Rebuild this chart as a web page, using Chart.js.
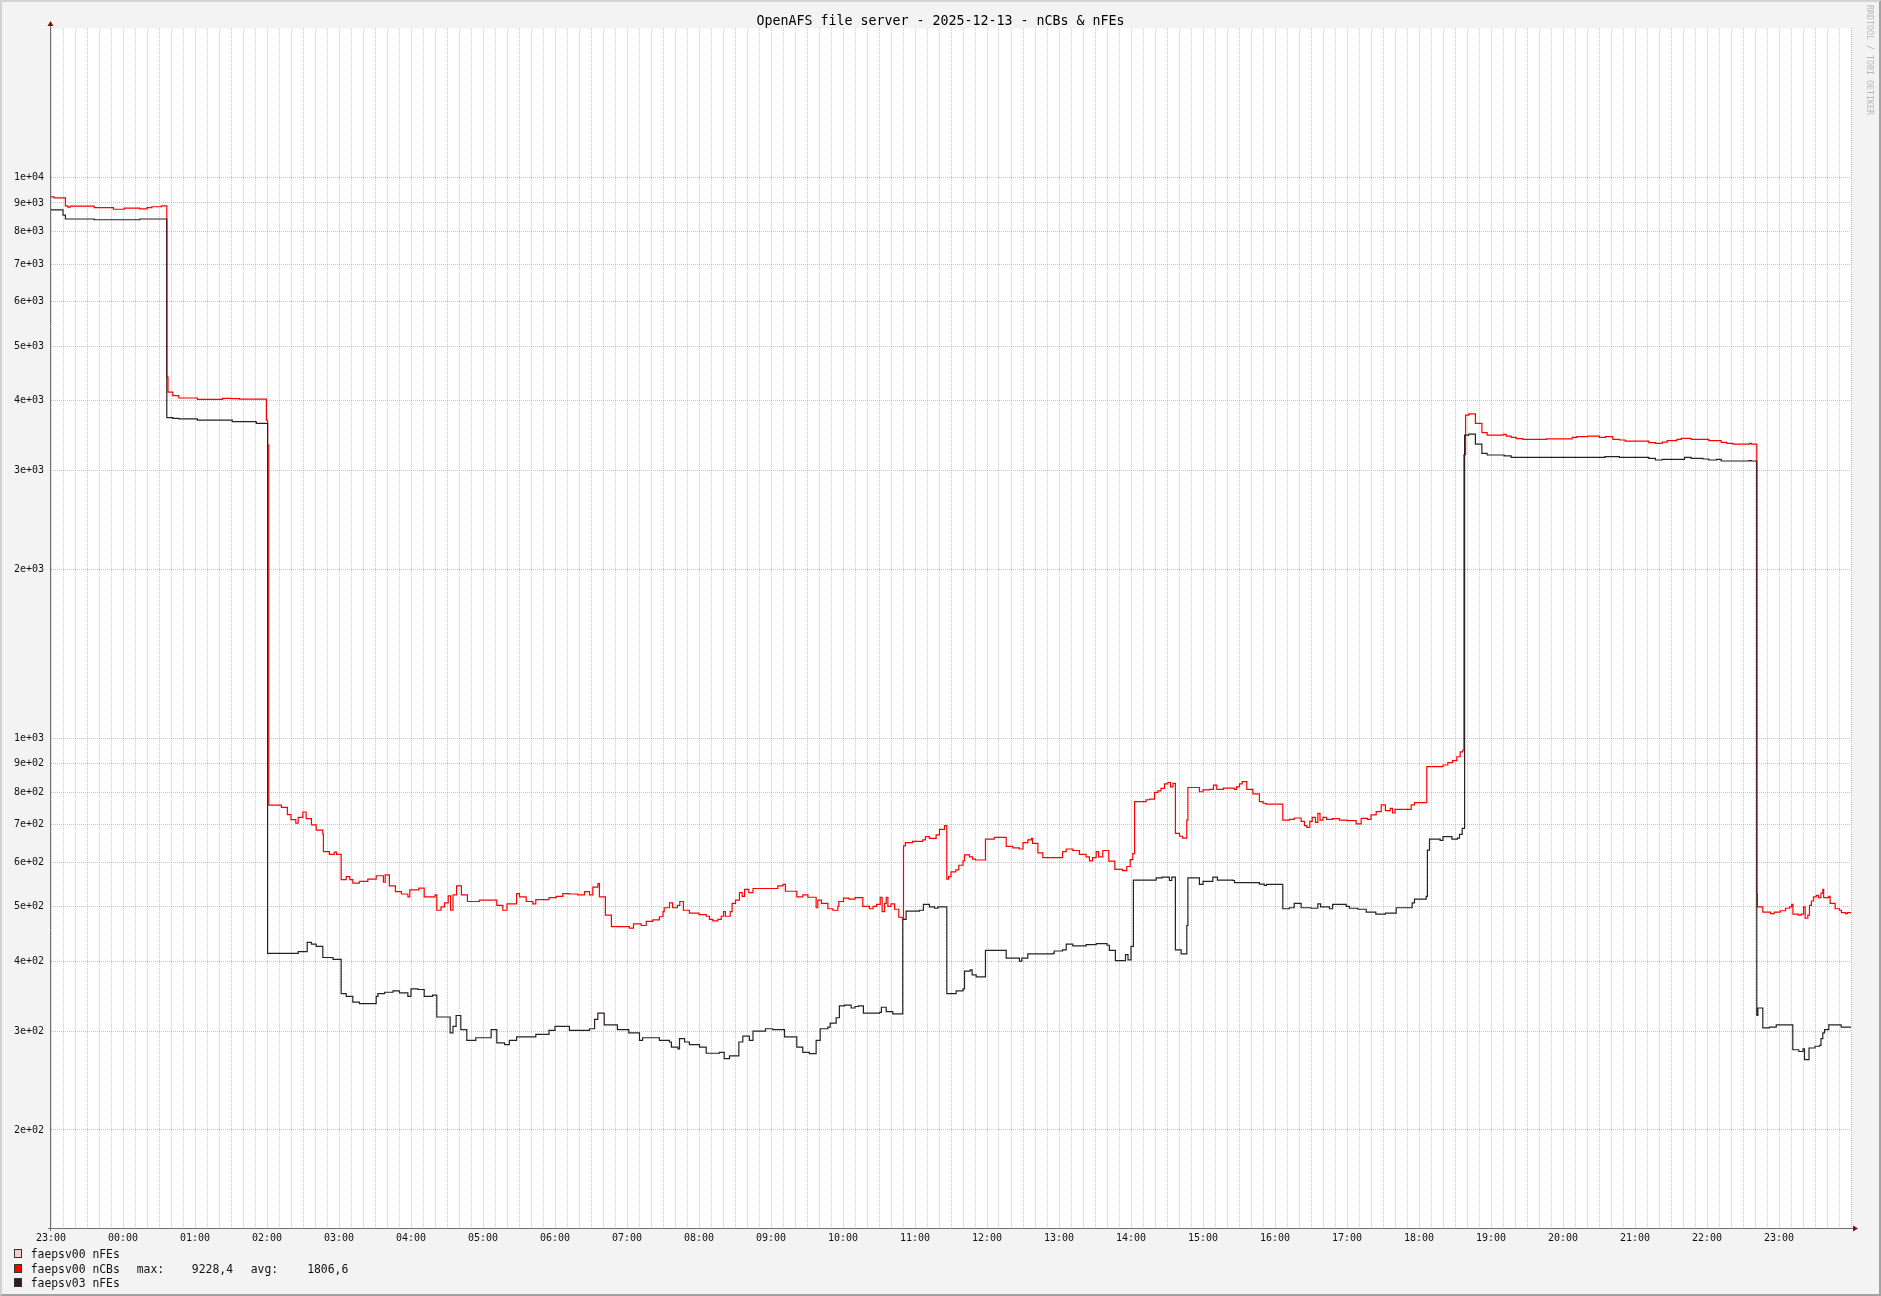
<!DOCTYPE html>
<html>
<head>
<meta charset="utf-8">
<title>OpenAFS file server - nCBs &amp; nFEs</title>
<script src="https://cdn.jsdelivr.net/npm/chart.js@4.4.1/dist/chart.umd.min.js"></script>
<style>
  body { margin: 0; background: #f3f3f3; }
  #frame {
    position: relative;
    width: 1881px;
    height: 1296px;
    background: #f3f3f3;
    font-family: "DejaVu Sans Mono", monospace;
    overflow: hidden;
  }
  #chart { position: absolute; left: 0; top: 0; }
  #border {
    position: absolute; left: 0; top: 0; width: 1881px; height: 1296px;
    box-sizing: border-box; pointer-events: none;
    border-style: solid; border-width: 2px;
    border-color: #d2d2d2 #a2a2a2 #a2a2a2 #d2d2d2;
  }
  #title {
    position: absolute; left: 0; top: 13px; width: 1881px;
    text-align: center; font-size: 13.3px; line-height: 16px; color: #000;
  }
  #watermark {
    position: absolute; left: 1865px; top: 5px;
    writing-mode: vertical-rl; font-size: 8.3px; line-height: 10px;
    color: #b8b8b8; white-space: pre;
  }
  #legend { position: absolute; left: 0; top: 1247px; }
  .row { position: relative; height: 14.5px; width: 400px; }
  .box {
    position: absolute; left: 14px; top: 2px; width: 6px; height: 7px;
    border: 1px solid #333;
  }
  .txt {
    position: absolute; top: 0; font-size: 11.4px; line-height: 14px;
    white-space: pre; color: #111;
  }
  .num { text-align: right; width: 42px; }
</style>
</head>
<body>
<div id="frame">
  <canvas id="chart" width="1881" height="1296"></canvas>
  <div id="title">OpenAFS file server - 2025-12-13 - nCBs &amp; nFEs</div>
  <div id="watermark">RRDTOOL / TOBI OETIKER</div>
  <div id="legend"></div>
  <div id="border"></div>
</div>
<script>
// x values are minutes since 23:00 of the previous day (25 hours shown)
const hourLabels = ["23:00", "00:00", "01:00", "02:00", "03:00", "04:00", "05:00", "06:00", "07:00",
  "08:00", "09:00", "10:00", "11:00", "12:00", "13:00", "14:00", "15:00", "16:00", "17:00",
  "18:00", "19:00", "20:00", "21:00", "22:00", "23:00"];
const yTickValues = [200, 300, 400, 500, 600, 700, 800, 900, 1000,
  2000, 3000, 4000, 5000, 6000, 7000, 8000, 9000, 10000];

const seriesLabels = ["faepsv00 nFEs", "faepsv00 nCBs", "faepsv03 nFEs"];
const seriesColors = ["#ffcccc", "#ff0000", "#2b2020"];
const statNames = ["max:", "avg:"];
const ncbsStats = ["9228,4", "1806,6"];

// faepsv00 nFEs: nothing drawn in the picture
const nfes00Times = [];
const nfes00Values = [];

// faepsv00 nCBs
const ncbsTimes = [0, 2.5, 12, 14, 16, 36, 52, 61, 74, 80, 84, 92, 96.5, 97.5, 101.5, 106.5, 122, 143, 150, 157,
  179.5, 180.5, 181.5, 192, 197, 200, 204, 206, 209.9, 212.6, 217, 221, 226.5, 227, 232, 236, 238,
  241.8, 246, 249, 251.5, 257, 264, 271, 277, 278.5, 282, 287, 292, 297.4, 299, 306.5, 311, 320,
  321.5, 325, 328, 331, 333, 335, 338, 342, 347, 357, 371.5, 376.5, 380, 388, 390.4, 396, 401.5,
  404, 415, 421, 426.5, 432, 439, 444.6, 448.75, 451.5, 455.7, 457, 462, 467, 482, 485.4, 491.8,
  496, 501.5, 507, 510, 511, 515.4, 518, 522, 524, 527, 532, 540, 546, 548.7, 551.5, 555.7, 558.5,
  560.4, 562, 566, 567.6, 570.4, 573.7, 576, 578, 581.5, 585, 605.7, 610, 612, 621.5, 626.5, 630.7,
  637.6, 639, 642, 647.4, 651.5, 655.7, 656.5, 660.4, 665, 670, 676.5, 682, 685, 688, 691, 692.6,
  694.6, 696, 697.4, 700, 703, 706.5, 709.3, 710.4, 712, 718, 726.5, 728.7, 732, 737.6, 740.4,
  744.6, 746.5, 748, 750, 754, 756.5, 760, 761.25, 765.4, 768, 770.4, 778.7, 786, 796, 801.5, 807,
  810, 814, 817, 818, 822.4, 826.5, 843, 846, 851.5, 857, 862.6, 865.4, 868, 871, 873, 876.5, 881.5,
  886.5, 893, 896.5, 899.3, 901.5, 903, 912.6, 915.4, 919.6, 922.4, 925, 928, 930.7, 933, 935, 937,
  940.4, 943, 946.5, 947.4, 957, 960, 965.4, 968.75, 971.5, 977, 986, 988, 990.4, 992.6, 996.5,
  1001.5, 1007, 1010, 1012.6, 1026.5, 1032, 1036, 1041.8, 1044.6, 1046.5, 1049, 1051, 1053.75,
  1055.7, 1057.5, 1060, 1063, 1068, 1073.75, 1080, 1087.6, 1091.8, 1097, 1100, 1104.3, 1108.5, 1112,
  1116, 1118, 1120, 1133.5, 1136.25, 1146.5, 1160, 1164, 1168, 1171.5, 1174.3, 1176.5, 1177.4,
  1178.8, 1181.5, 1187, 1192.4, 1196.8, 1210, 1212.7, 1216.8, 1221, 1226.5, 1246, 1267.7, 1271.5,
  1280.7, 1290.4, 1295.4, 1301.5, 1307.1, 1311.8, 1331.5, 1337.1, 1342.7, 1346.8, 1354.9, 1358.5,
  1366.8, 1381.5, 1391.8, 1396.5, 1401.5, 1415.4, 1417, 1421.5, 1422, 1426.5, 1433, 1436, 1441,
  1445.4, 1448.8, 1450.5, 1451.6, 1456, 1458.5, 1460.4, 1461.8, 1464, 1465.4, 1467, 1468.75, 1471,
  1473, 1475, 1476.5, 1477.2, 1481.5, 1482.6, 1486.8, 1490.4, 1492, 1495.4, 1497, 1500];
const ncbsValues = [9228, 9190, 8890, 8850, 8880, 8830, 8770, 8810, 8780, 8830, 8860, 8890, 4400, 4140, 4080, 4040, 4018, 4035, 4030, 4020,
  3690, 3330, 759, 752, 730, 715, 705, 722, 738, 718, 700, 685, 674, 627, 620, 626, 620,
  559, 566, 559, 551, 555, 560, 568, 553, 570, 545, 532, 527, 521, 536, 540, 521, 525,
  493, 500, 508, 523, 493, 525, 545, 525, 511, 514, 503, 493, 506, 528, 521, 511, 506,
  515, 519, 522, 528, 527, 525, 532, 525, 542, 550, 521, 483, 461, 458, 466, 463,
  471, 474, 480, 490, 498, 508, 498, 503, 511, 493, 487, 484, 481, 475, 472, 475, 481,
  490, 481, 490, 507, 514, 530, 522, 537, 530, 539, 545, 548, 533, 521, 525, 520,
  498, 514, 507, 496, 493, 501, 511, 518, 516, 519, 501, 496, 501, 505, 520, 490,
  507, 520, 501, 506, 495, 479, 477, 642, 651, 654, 658, 667, 662, 672, 687,
  698, 560, 566, 577, 582, 593, 604, 619, 614, 608, 606, 660, 665, 641, 637, 634,
  651, 658, 662, 649, 624, 612, 627, 634, 630, 620, 614, 604, 612, 627, 614, 630, 603,
  583, 580, 590, 607, 622, 770, 776, 778, 800, 805, 813, 828, 833, 818, 830, 676,
  668, 663, 714, 816, 802, 808, 810, 824, 810, 814, 810, 818, 828, 836, 810,
  795, 770, 765, 762, 714, 716, 720, 710, 698, 693, 710, 722, 707,
  734, 714, 722, 716, 718, 714, 712, 703, 719, 716, 729, 739, 760, 742,
  749, 735, 746, 760, 767, 889, 895, 904, 911, 926, 945, 952, 3200,
  3767, 3784, 3641, 3503, 3470, 3480, 3455, 3438, 3420, 3410, 3417, 3438, 3446,
  3455, 3438, 3446, 3410, 3400, 3384, 3363, 3353, 3370, 3391, 3410, 3424,
  3410, 3391, 3367, 3353, 3344, 3353, 3344, 526, 500, 489, 486, 489, 492,
  497, 500, 505, 485, 483, 485, 500, 477, 483, 503, 512, 521, 524,
  519, 529, 537, 519, 522, 507, 496, 493, 488, 486, 488, 488];

// faepsv03 nFEs
const nfes03Times = [0, 10, 12, 36, 74, 96.5, 101.5, 106.5, 122, 151, 171, 180.5, 206, 213.5, 217, 221, 226.5, 235,
  241.8, 246, 251.5, 257, 271, 272.4, 278, 285, 290.4, 297.4, 300, 305.7, 311, 318, 321.5, 332.6,
  335, 337.6, 341.5, 346.5, 354, 366.8, 371.5, 378, 382, 388, 404, 415, 420, 432, 448.75, 453,
  455.7, 461, 472, 481.5, 490.4, 493, 507, 515.4, 517, 522.4, 523.75, 528, 532, 540.4, 546, 557,
  561, 565.4, 573.2, 576.5, 582, 585, 595.4, 601.5, 611.25, 621.5, 626.5, 632, 637.6, 641, 647.4,
  649.3, 654.3, 657, 661.25, 666.8, 670, 673, 677, 690.4, 692, 696, 701.5, 709.8, 712.6, 723.7,
  727, 732, 736.25, 739, 746.5, 754.3, 760, 761.25, 766, 767.6, 771, 778.7, 796, 807, 809, 814,
  835, 836, 843, 846, 851.5, 862.6, 871, 880, 882, 887, 895.4, 897.5, 900, 902, 921, 926, 932,
  934, 937, 941.8, 946.5, 947.4, 957, 960, 968.2, 972, 985, 986.25, 1007, 1011, 1013, 1026.5,
  1032, 1036, 1041.8, 1050, 1055.7, 1058, 1065.4, 1068, 1079.3, 1082, 1089, 1096, 1104, 1112,
  1121, 1134.3, 1136.25, 1146, 1147, 1148.75, 1157.6, 1160, 1167.4, 1172, 1173.75, 1176, 1178,
  1181.5, 1187, 1192.4, 1196.8, 1211, 1216.8, 1295, 1307, 1331.5, 1337, 1342.7, 1361.3, 1366.8,
  1376.6, 1381.5, 1388, 1391.8, 1415, 1417, 1421.5, 1422.4, 1426.5, 1432, 1437.7, 1451.5, 1456.5,
  1460, 1461.25, 1465, 1470, 1473.8, 1475, 1476.5, 1478, 1481.5, 1491.8, 1500];
const nfes03Values = [8745, 8560, 8426, 8400, 8426, 3726, 3715, 3707, 3690, 3665, 3641, 413, 416, 432, 429, 425, 406, 403,
  350, 346, 338, 336, 346, 350, 352, 354, 351, 346, 357, 356, 346, 348, 318, 298,
  306, 320, 302, 289, 292, 302, 286, 284, 289, 293, 296, 301, 306, 301, 303, 315,
  323, 308, 302, 298, 289, 292, 289, 287, 281, 279, 291, 287, 284, 281, 274, 275,
  268, 271, 287, 294, 289, 300, 303, 302, 293, 281, 275, 273.5, 289, 303, 305,
  310, 317, 333, 334, 330, 332, 333, 323, 324, 331, 325, 322, 475, 491, 493,
  505, 500, 497, 500, 350, 354, 357, 384, 386, 378, 375, 418, 405, 400, 405, 412,
  413, 417, 419, 429, 426, 428, 430, 427, 418, 401, 411, 402, 425, 558, 563, 565, 557,
  565, 419, 412, 463, 563, 548, 555, 565, 558, 557, 552, 549, 546, 548, 496,
  498, 507, 498, 497, 506, 500, 496, 505, 501, 497, 495, 489, 485, 487,
  498, 508, 516, 522, 631, 660, 657, 667, 660, 663, 673, 690, 3470,
  3484, 3344, 3219, 3197, 3185, 3167, 3175, 3167, 3154, 3132, 3140, 3167, 3154,
  3145, 3132, 3140, 3119, 3125, 3119, 320, 330, 304, 305, 308, 278, 276,
  279, 267, 280, 282, 283, 291, 298, 302, 308, 305, 305];

function points(times, values) {
  return times.map((t, i) => ({ x: t, y: values[i] }));
}

function expLabel(v) {
  const e = Math.floor(Math.log10(v) + 1e-9);
  const m = Math.round(v / Math.pow(10, e));
  return `${m}e+${String(e).padStart(2, "0")}`;
}

const gridMajor = "rgba(225, 120, 120, 0.55)";
const gridMinor = "rgba(160, 160, 160, 0.55)";
const monoFont = { family: "DejaVu Sans Mono", size: 10 };

const framePlugin = {
  id: "rrdFrame",
  beforeDraw(chart) {
    const { ctx, chartArea: a } = chart;
    ctx.save();
    ctx.fillStyle = "#ffffff";
    ctx.fillRect(a.left, a.top, a.right - a.left, a.bottom - a.top);
    ctx.restore();
  },
  beforeDatasetsDraw(chart) {
    const { ctx, chartArea: a } = chart;
    const x0 = Math.round(a.left) - 0.5;
    const y0 = Math.round(a.bottom) + 0.5;
    ctx.save();
    ctx.strokeStyle = "#707070";
    ctx.lineWidth = 1;
    ctx.beginPath();
    ctx.moveTo(x0, a.bottom + 3);
    ctx.lineTo(x0, a.top - 3);
    ctx.moveTo(a.left - 3, y0);
    ctx.lineTo(a.right + 2, y0);
    ctx.stroke();
    ctx.fillStyle = "#7a1414";
    ctx.beginPath();
    ctx.moveTo(x0, a.top - 7);
    ctx.lineTo(x0 - 3, a.top - 2);
    ctx.lineTo(x0 + 3, a.top - 2);
    ctx.closePath();
    ctx.fill();
    ctx.beginPath();
    ctx.moveTo(a.right + 7, y0);
    ctx.lineTo(a.right + 2, y0 - 3);
    ctx.lineTo(a.right + 2, y0 + 3);
    ctx.closePath();
    ctx.fill();
    ctx.restore();
  },
};

const xTickValues = [];
for (let t = 0; t <= 1500; t += 10) xTickValues.push(t);

new Chart(document.getElementById("chart"), {
  type: "line",
  data: {
    datasets: [
      {
        label: seriesLabels[2],
        data: points(nfes03Times, nfes03Values),
        borderColor: seriesColors[2],
        order: 0,
      },
      {
        label: seriesLabels[1],
        data: points(ncbsTimes, ncbsValues),
        borderColor: seriesColors[1],
        order: 1,
      },
      {
        label: seriesLabels[0],
        data: points(nfes00Times, nfes00Values),
        borderColor: seriesColors[0],
        order: 2,
      },
    ],
  },
  options: {
    responsive: false,
    animation: false,
    devicePixelRatio: 1,
    layout: { padding: { top: 28, right: 30, left: 0, bottom: 0 } },
    elements: {
      line: { borderWidth: 1.2, stepped: true, tension: 0, fill: false },
      point: { radius: 0, hoverRadius: 0 },
    },
    plugins: {
      legend: { display: false },
      title: { display: false },
      tooltip: { enabled: false },
    },
    scales: {
      x: {
        type: "linear",
        bounds: "data",
        min: 0,
        max: 1500,
        afterBuildTicks: (scale) => {
          scale.ticks = xTickValues.map((v) => ({ value: v }));
        },
        afterFit: (scale) => {
          scale.height = 68;
        },
        ticks: {
          autoSkip: false,
          maxRotation: 0,
          padding: 4,
          color: "#111",
          font: monoFont,
          callback: (value) => (value % 60 === 0 && hourLabels[value / 60] ? hourLabels[value / 60] : ""),
        },
        grid: {
          drawTicks: false,
          lineWidth: 1,
          color: (ctx) => (ctx.tick && ctx.tick.value % 30 === 0 ? gridMajor : gridMinor),
        },
        border: { display: false, dash: [1, 1] },
      },
      y: {
        type: "logarithmic",
        bounds: "data",
        min: 133.7,
        max: 18460,
        afterBuildTicks: (scale) => {
          scale.ticks = yTickValues.map((v) => ({ value: v }));
        },
        afterFit: (scale) => {
          scale.width = 51;
        },
        ticks: {
          autoSkip: false,
          padding: 7,
          color: "#111",
          font: monoFont,
          callback: (value) => expLabel(value),
        },
        grid: {
          drawTicks: false,
          lineWidth: 1,
          color: gridMajor,
        },
        border: { display: false, dash: [1, 1] },
      },
    },
  },
  plugins: [framePlugin],
});

// RRDtool-style legend below the plot
const legend = document.getElementById("legend");
function addText(row, text, left, cls) {
  const span = document.createElement("span");
  span.className = "txt" + (cls ? " " + cls : "");
  span.style.left = left + "px";
  span.textContent = text;
  row.appendChild(span);
}
seriesLabels.forEach((label, i) => {
  const row = document.createElement("div");
  row.className = "row";
  const box = document.createElement("span");
  box.className = "box";
  box.style.background = seriesColors[i];
  row.appendChild(box);
  addText(row, label, 30.7);
  if (i === 1) {
    addText(row, statNames[0], 136.7);
    addText(row, ncbsStats[0], 191, "num");
    addText(row, statNames[1], 250.7);
    addText(row, ncbsStats[1], 306.3, "num");
  }
  legend.appendChild(row);
});
</script>
</body>
</html>
